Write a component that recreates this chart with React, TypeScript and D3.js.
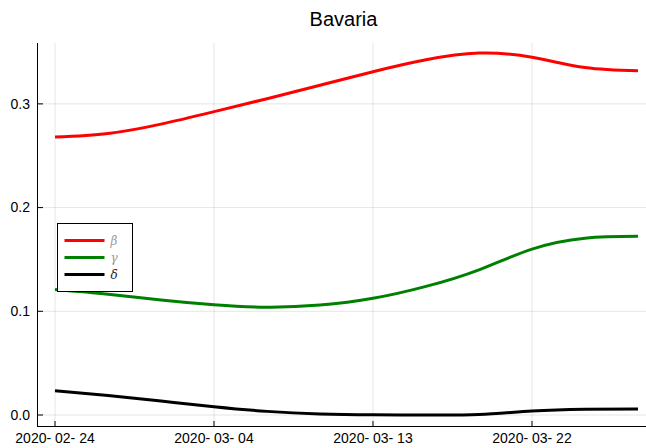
import * as d3 from "d3";
import { useEffect, useRef } from "react";

// days since 2020-02-24, sampled every 3 days
const days = [0, 3, 6, 9, 12, 15, 18, 21, 24, 27, 30, 33];
const beta = [0.268, 0.2715, 0.2805, 0.2925, 0.305, 0.318, 0.331, 0.3425, 0.349, 0.345, 0.335, 0.332];
const gamma = [0.121, 0.1165, 0.111, 0.1064, 0.104, 0.106, 0.1125, 0.124, 0.14, 0.16, 0.1705, 0.1723];
const delta = [0.0235, 0.0188, 0.0135, 0.008, 0.0035, 0.001, 0.0002, 0.0, 0.0005, 0.0038, 0.0055, 0.0058];

const xTickDays = [0, 9, 18, 27];
const xTickLabels = ["2020- 02- 24", "2020- 03- 04", "2020- 03- 13", "2020- 03- 22"];
const yTicks = [0.0, 0.1, 0.2, 0.3];

const seriesNames = ["β", "γ", "δ"];
const seriesColors = ["#ff0000", "#008000", "#000000"];
const labelColors = ["#9a9a9a", "#9a9a9a", "#222222"];

export default function App() {
    const ref = useRef<SVGSVGElement>(null);

    useEffect(() => {
        const svg = d3.select(ref.current);
        svg.selectAll("*").remove();

        const width = 646;
        const height = 448;
        // plot box (right edge runs past the picture, as in the original)
        const left = 37, right = 656, top = 43, bottom = 426;

        svg.attr("width", width).attr("height", height);

        const x = d3.scaleLinear().domain([-1.02, 34.02]).range([left, right]);
        const y = d3.scaleLinear().domain([-0.0106, 0.3587]).range([bottom, top]);

        const font = "'Liberation Sans', Arial, sans-serif";

        // grid
        const grid = svg.append("g").attr("stroke", "#000").attr("stroke-opacity", 0.1).attr("stroke-width", 1);
        xTickDays.forEach(d => {
            grid.append("line").attr("x1", x(d)).attr("x2", x(d)).attr("y1", top).attr("y2", bottom);
        });
        yTicks.forEach(v => {
            grid.append("line").attr("x1", left).attr("x2", right).attr("y1", y(v)).attr("y2", y(v));
        });

        // axes (spines + inward ticks)
        const axis = svg.append("g").attr("stroke", "#000").attr("stroke-width", 1);
        axis.append("line").attr("x1", left + 0.5).attr("x2", left + 0.5).attr("y1", top).attr("y2", bottom);
        axis.append("line").attr("x1", left).attr("x2", right).attr("y1", bottom + 0.5).attr("y2", bottom + 0.5);
        yTicks.forEach(v => {
            axis.append("line").attr("x1", left).attr("x2", left + 6).attr("y1", y(v)).attr("y2", y(v));
        });
        xTickDays.forEach(d => {
            axis.append("line").attr("x1", x(d)).attr("x2", x(d)).attr("y1", bottom).attr("y2", bottom - 5);
        });

        // tick labels
        yTicks.forEach(v => {
            svg.append("text")
                .attr("x", left - 7)
                .attr("y", y(v))
                .attr("dy", "0.35em")
                .attr("text-anchor", "end")
                .style("font-family", font)
                .style("font-size", "14px")
                .text(v.toFixed(1));
        });
        xTickDays.forEach((d, i) => {
            svg.append("text")
                .attr("x", x(d))
                .attr("y", bottom + 17)
                .attr("text-anchor", "middle")
                .style("font-family", font)
                .style("font-size", "14px")
                .text(xTickLabels[i]);
        });

        // title
        svg.append("text")
            .attr("x", (left + right) / 2 - 3)
            .attr("y", 26)
            .attr("text-anchor", "middle")
            .style("font-family", font)
            .style("font-size", "20px")
            .text("Bavaria");

        // lines
        const line = d3.line<number>()
            .x((_, i) => x(days[i]))
            .y(v => y(v))
            .curve(d3.curveNatural);

        [beta, gamma, delta].forEach((s, i) => {
            svg.append("path")
                .attr("d", line(s))
                .attr("fill", "none")
                .attr("stroke", seriesColors[i])
                .attr("stroke-width", 3);
        });

        // legend
        const lg = svg.append("g").attr("transform", "translate(57.5,223.5)");
        lg.append("rect")
            .attr("width", 75)
            .attr("height", 68)
            .attr("fill", "#fff")
            .attr("stroke", "#000")
            .attr("stroke-width", 1);
        seriesNames.forEach((name, i) => {
            const ry = 17 + i * 17;
            lg.append("line")
                .attr("x1", 7)
                .attr("x2", 47)
                .attr("y1", ry)
                .attr("y2", ry)
                .attr("stroke", seriesColors[i])
                .attr("stroke-width", 3);
            lg.append("text")
                .attr("x", 53)
                .attr("y", ry)
                .attr("dy", "0.35em")
                .style("font-family", "'DejaVu Serif', serif")
                .style("font-style", "italic")
                .style("font-size", "12px")
                .attr("fill", labelColors[i])
                .text(name);
        });
    }, []);

    return (
        <div style={{ position: "absolute", left: 0, top: 0 }}>
            <svg ref={ref} style={{ display: "block" }} />
        </div>
    );
}
